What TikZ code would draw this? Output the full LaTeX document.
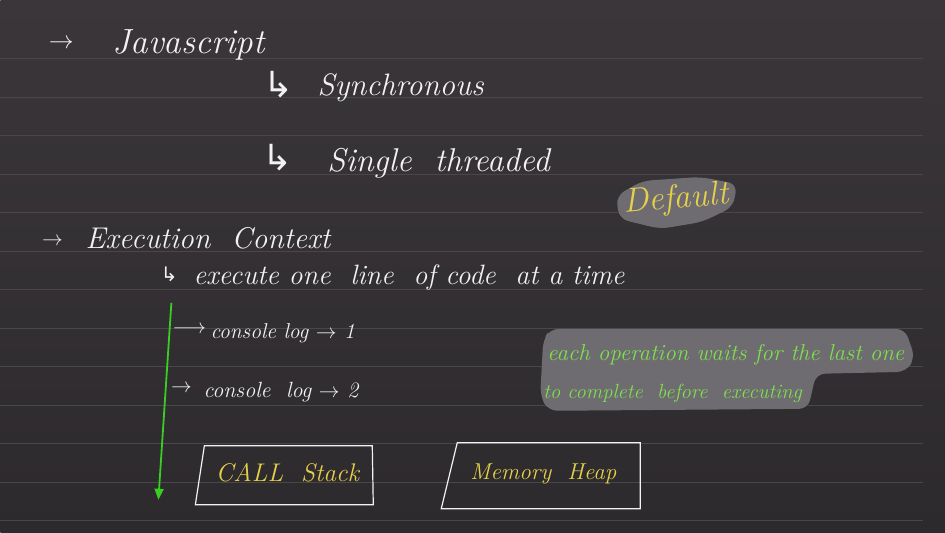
\documentclass[tikz,border=0pt]{standalone}
\usepackage{fontspec}
\newfontfamily\symfont{DejaVu Sans}
\usetikzlibrary{arrows.meta,positioning}

\definecolor{boardtop}{HTML}{3A363A}
\definecolor{board}{HTML}{2D2A2D}
\definecolor{ruleline}{HTML}{4A474A}
\definecolor{chalk}{HTML}{F2F2F2}
\definecolor{marker}{HTML}{E6D04A}
\definecolor{leaf}{HTML}{7EE04E}
\definecolor{flowgreen}{HTML}{3ACD24}
\definecolor{smudge}{HTML}{6E6C70}

\begin{document}
\begin{tikzpicture}[
  x=1pt, y=-1pt,
  hw/.style={text=chalk, font=\fontsize{30}{32}\selectfont\itshape, inner sep=0pt, anchor=base west},
  arr/.style={text=chalk, font=\fontsize{22}{24}\selectfont, inner sep=0pt},
  hook/.style={text=chalk, font=\symfont\fontsize{36}{38}\selectfont, inner sep=0pt},
  tag/.style={text=marker, font=\fontsize{26}{28}\selectfont\itshape, inner sep=0pt, anchor=base west},
  note/.style={text=leaf, font=\fontsize{22}{24}\selectfont\itshape, inner sep=0pt, anchor=base west},
  bx/.style={draw=chalk, line width=1.2pt},
  blob/.style={fill=smudge, rounded corners=9pt},
  flow/.style={draw=flowgreen, line width=1.8pt, -{Triangle[length=11pt,width=9pt]}}
]
  % board and ruled lines
  \shade[top color=boardtop, bottom color=board] (0,0) rectangle (945,533);
  \foreach \k in {0,...,12}
    \draw[ruleline, line width=0.9pt] (0,{58.7+38.5*\k}) -- (923,{58.7+38.5*\k});

  % highlight blobs
  \fill[blob] (616,196) -- (642,181) -- (700,177) -- (737,184) -- (733,207)
    -- (702,222) -- (660,229) -- (619,219) -- cycle;
  \fill[blob] (550,329) -- (905,329) -- (915,358) -- (906,372) -- (816,374)
    -- (808,409) -- (548,411) -- (540,396) -- (543,340) -- cycle;

  % Javascript
  \node[arr, font=\fontsize{30}{32}\selectfont] (arJs) at (61,44) {$\rightarrow$};
  \node[hw, font=\fontsize{35}{38}\selectfont\itshape] (js) at (112,54) {Javascript};
  \node[hook] (arSync) at (278,85) {↳};
  \node[hw, font=\fontsize{31}{34}\selectfont\itshape] (sync) at (317,96) {Synchronous};
  \node[hook] (arSingle) at (277,158) {↳};
  \node[hw, font=\fontsize{33}{36}\selectfont\itshape] (single) at (327,172) {Single \ threaded};
  \node[tag, anchor=center, rotate=5, font=\fontsize{34}{36}\selectfont\itshape] (dflt) at (676,200) {Default};

  % Execution Context
  \node[arr] (arEc) at (52,242) {$\rightarrow$};
  \node[hw] (ec) at (85,249) {Execution \ Context};
  \node[hook, font=\symfont\fontsize{20}{22}\selectfont] (arExe) at (169,274) {↳};
  \node[hw, font=\fontsize{28}{30}\selectfont\itshape] (exe) at (193,285) {execute one \ line \ of code \ at a time};

  % one line after the other
  \coordinate (flowtop) at (171,303);
  \coordinate (flowend) at (158,500);
  \draw[flow] (flowtop) -- (flowend);
  \node[arr, font=\fontsize{20}{22}\selectfont] (arL1) at (189,330) {$\longrightarrow$};
  \node[hw, font=\fontsize{21.5}{24}\selectfont\itshape] (log1) at (210,339) {console log $\rightarrow$ 1};
  \node[arr] (arL2) at (181,389) {$\rightarrow$};
  \node[hw, font=\fontsize{22}{24}\selectfont\itshape] (log2) at (203,398) {console \ log $\rightarrow$ 2};

  % note
  \node[note, font=\fontsize{23}{25}\selectfont\itshape] (waits) at (547,361) {each operation waits for the last one};
  \node[note, font=\fontsize{20.5}{23}\selectfont\itshape] (complete) at (543,399) {to complete \ before \ executing};

  % stack and heap
  \draw[bx] (204,446) -- (372,446) -- (373,505) -- (195,505) -- cycle;
  \node[tag, font=\fontsize{25.5}{28}\selectfont\itshape] (stack) at (215,482) {CALL \ Stack};
  \draw[bx] (457,443) -- (640,443) -- (640,509) -- (441,509) -- cycle;
  \node[tag, font=\fontsize{23}{26}\selectfont\itshape] (heap) at (470,480) {Memory \ Heap};
\end{tikzpicture}
\end{document}
